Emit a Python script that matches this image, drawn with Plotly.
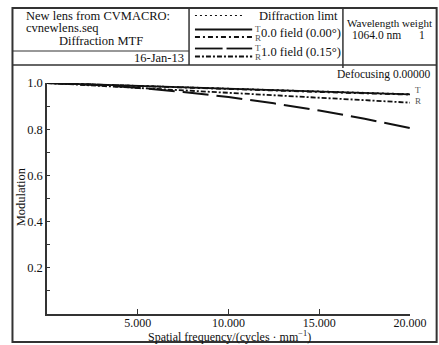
import plotly.graph_objects as go

# ---- data ----
freq = [0, 2.5, 5, 7.5, 10, 12.5, 15, 17.5, 20]
diff_limit = [1.000, 0.994, 0.988, 0.982, 0.975, 0.969, 0.963, 0.957, 0.952]
field0_T = [1.000, 0.994, 0.987, 0.981, 0.974, 0.968, 0.962, 0.956, 0.951]
field0_R = [1.000, 0.993, 0.987, 0.980, 0.974, 0.967, 0.961, 0.955, 0.950]
field1_T = [1.000, 0.992, 0.979, 0.961, 0.939, 0.912, 0.881, 0.845, 0.805]
field1_R = [1.000, 0.989, 0.979, 0.968, 0.958, 0.947, 0.936, 0.925, 0.915]

x_tick_vals = [5, 10, 15, 20]
x_tick_text = ["5.000", "10.000", "15.000", "20.000"]
y_tick_vals = [0.2, 0.4, 0.6, 0.8, 1.0]
y_tick_text = ["0.2", "0.4", "0.6", "0.8", "1.0"]

W, H = 439, 345
L, R, T, B = 47, 415, 83, 314  # plot area in page pixels
FONT = "Liberation Serif, Times New Roman, serif"
INK = "#111111"

def px(x):
    return (x - L) / (R - L)

def py(y):
    return (B - y) / (B - T)

DOT = "2px,3px"
DASHDOT = "5px,3px,2px,3px"
LONGDASH = "26px,8px"
DASHDOTDOT = "5px,2px,2px,2px"

fig = go.Figure()
series = [
    (diff_limit, DOT, 1.5),
    (field0_T, "solid", 1.8),
    (field0_R, DASHDOT, 1.8),
    (field1_T, LONGDASH, 2.0),
    (field1_R, DASHDOTDOT, 1.8),
]
for vals, dash, w in series:
    fig.add_trace(go.Scatter(x=freq, y=vals, mode="lines",
                             line=dict(color=INK, width=w, dash=dash),
                             showlegend=False, hoverinfo="skip"))

shapes = []
def line(x0, y0, x1, y1, width=1.5, dash="solid", color="#333"):
    shapes.append(dict(type="line", xref="paper", yref="paper",
                       x0=px(x0), y0=py(y0), x1=px(x1), y1=py(y1),
                       line=dict(color=color, width=width, dash=dash)))

# outer frame (right edge lies just past the visible area)
shapes.append(dict(type="rect", xref="paper", yref="paper",
                   x0=px(12), y0=py(8), x1=px(442), y1=py(342),
                   line=dict(color="#333", width=2)))
# header dividers
line(12, 65, 442, 65, 1.5)
line(12, 51, 191, 51, 1.2)
line(191, 8, 191, 65, 1.5)
line(347, 8, 347, 68, 1.5)

# legend samples
line(197, 15.5, 246, 15.5, 1.2, DOT, INK)
line(197, 29.5, 255, 29.5, 1.8, "solid", INK)
line(197, 37, 255, 37, 1.8, DASHDOT, INK)
line(197, 48.5, 225, 48.5, 1.8, "solid", INK)
line(229, 48.5, 255, 48.5, 1.8, "solid", INK)
line(197, 56.5, 255, 56.5, 1.8, DASHDOTDOT, INK)

annots = []
def text(x, y, s, size=12, xanchor="left", color=INK, angle=0):
    annots.append(dict(xref="paper", yref="paper", x=px(x), y=py(y), text=s,
                       showarrow=False, xanchor=xanchor, yanchor="middle",
                       textangle=angle,
                       font=dict(family=FONT, size=size, color=color)))

text(24, 16, "New lens from CVMACRO:", size=12.5)
text(24, 28, "cvnewlens.seq", size=12.5)
text(102, 41, "Diffraction MTF", xanchor="center", size=12.5)
text(188, 58, "16-Jan-13", xanchor="right", size=12.5)

text(260, 15.5, "Diffraction limt", size=12.5)
text(256, 29, "T", size=9, color="#555")
text(256, 38, "R", size=9, color="#555")
text(262, 33, "0.0 field (0.00°)", size=12.5)
text(256, 48, "T", size=9, color="#555")
text(256, 57, "R", size=9, color="#555")
text(262, 52, "1.0 field (0.15°)", size=12.5)

text(349, 23, "Wavelength weight", size=11)
text(354, 35, "1064.0 nm", size=11.5)
text(427, 35, "1", xanchor="center", size=11.5)

text(438, 74, "Defocusing 0.00000", xanchor="right", size=11.5)

text(418, 90.5, "T", size=9, color="#555")
text(418, 100.5, "R", size=9, color="#555")

text(21, 197, "Modulation", angle=-90, xanchor="center", size=12.5)
text(232, 336, "Spatial frequency/(cycles · mm<sup>−1</sup>)", xanchor="center", size=12)

fig.update_layout(
    width=W, height=H,
    margin=dict(l=L, r=W - R, t=T, b=H - B, pad=0),
    paper_bgcolor="white", plot_bgcolor="white",
    font=dict(family=FONT, size=12, color=INK),
    shapes=shapes, annotations=annots, showlegend=False,
    xaxis=dict(range=[0, 20], showgrid=False, zeroline=False,
               showline=True, linecolor="#333", linewidth=1.5,
               ticks="inside", ticklen=5, tickwidth=1.2, tickcolor="#333",
               tickvals=x_tick_vals, ticktext=x_tick_text,
               ticklabelstandoff=-3,
               tickfont=dict(family=FONT, size=12, color=INK)),
    yaxis=dict(range=[0, 1], showgrid=False, zeroline=False,
               showline=True, linecolor="#333", linewidth=1.5,
               ticks="inside", ticklen=3, tickwidth=1.2, tickcolor="#333",
               tickvals=y_tick_vals, ticktext=y_tick_text,
               minor=dict(dtick=0.1, tick0=0, ticks="inside", ticklen=3,
                          tickwidth=1.2, tickcolor="#333", showgrid=False),
               tickfont=dict(family=FONT, size=12.5, color=INK)),
)

fig.write_html(
    "out.html",
    config={"displayModeBar": False},
    post_script="document.body.style.margin='0';document.body.style.overflow='hidden';",
)
